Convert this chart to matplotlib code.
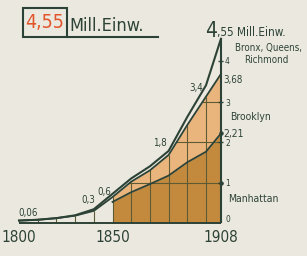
import matplotlib
matplotlib.use("Agg")
import matplotlib.pyplot as plt
from matplotlib.patches import Rectangle, Polygon

# ---- data (millions of inhabitants, New York) ----
years = [1800, 1810, 1820, 1830, 1840, 1850, 1860, 1870, 1880, 1890, 1900, 1908]
total = [0.06, 0.08, 0.12, 0.19, 0.34, 0.72, 1.10, 1.40, 1.78, 2.62, 3.40, 4.55]
manh_brooklyn = [0.06, 0.08, 0.12, 0.18, 0.30, 0.64, 1.02, 1.30, 1.68, 2.42, 3.12, 3.68]
manhattan_years = [1850, 1860, 1870, 1880, 1890, 1900, 1908]
manhattan = [0.52, 0.76, 0.96, 1.17, 1.50, 1.76, 2.21]
axis_ticks = [1, 2, 3, 4]
year_labels = ["1800", "1850", "1908"]
year_label_pos = [1800, 1850, 1908]
curve_labels = ["0,06", "0,3", "0,6", "1,8", "3,4"]
end_labels = ["3,68", "2,21"]
series_names = ["Bronx, Queens,", "Richmond", "Brooklyn", "Manhattan"]

BG = "#ebe9df"
INK = "#2d4236"
DARK = "#c38a3e"
LIGHT = "#eab57c"
RED = "#e2552b"
GRID = "#5e5a34"

W, H = 307, 256
fig = plt.figure(figsize=(W / 100, H / 100), dpi=100)
fig.patch.set_facecolor(BG)
ax = fig.add_axes([0, 0, 1, 1])
ax.set_facecolor(BG)
PX_YEAR = 1.87
PX_UNIT = 40.5
X0 = 1800 - 19 / PX_YEAR
Y0_PX = 223
ax.set_xlim(X0, X0 + W / PX_YEAR)
ax.set_ylim(-(H - Y0_PX) / PX_UNIT, Y0_PX / PX_UNIT)
ax.axis("off")


def fx(px):
    return X0 + px / PX_YEAR


def fy(py):
    return (Y0_PX - py) / PX_UNIT


i0 = years.index(manhattan_years[0])
fill_years = years[i0:]
mb_fill = manh_brooklyn[i0:]

ax.fill_between(manhattan_years, 0, manhattan, color=DARK, lw=0, zorder=1)
ax.fill_between(manhattan_years, manhattan, mb_fill, color=LIGHT, lw=0, zorder=1)
clip = Polygon(list(zip(fill_years, mb_fill)) + [(fill_years[-1], 0), (fill_years[0], 0)],
               closed=True, transform=ax.transData, fc="none", ec="none")
ax.add_patch(clip)

# grid inside filled area
hl = ax.hlines(axis_ticks[:-1], fill_years[0], fill_years[-1], color=GRID, lw=0.8, zorder=2)
hl.set_clip_path(clip)
ax.vlines(years[:-1], 0, manh_brooklyn[:-1], color=GRID, lw=0.8, zorder=2)

# axes lines
ax.hlines(0, years[0], years[-1], color=INK, lw=1.4, zorder=4)
ax.vlines(years[-1], 0, total[-1], color=INK, lw=1.5, zorder=4)
ax.hlines(axis_ticks, years[-1] - 1.5, years[-1] + 1.2, color=INK, lw=1.0, zorder=4)
ax.plot([years[-1]] * 2, [axis_ticks[0], manhattan[-1]], "o", color=INK, ms=2.2, zorder=5)

# curves
ax.plot(years, total, color=INK, lw=1.5, zorder=3, solid_joinstyle="round")
ax.plot(years, manh_brooklyn, color=INK, lw=1.3, zorder=3, solid_joinstyle="round")
ax.plot(manhattan_years, manhattan, color=INK, lw=1.3, zorder=3, solid_joinstyle="round")

# ---- texts ----
tk = dict(color=INK, family="DejaVu Sans", fontstretch="condensed")
for lab, yr in zip(year_labels, year_label_pos):
    ax.text(yr, fy(238), lab, ha="center", va="center", fontsize=11, **tk)

# title box
ax.add_patch(Rectangle((fx(23), fy(37)), (67 - 23) / PX_YEAR, (37 - 8) / PX_UNIT,
                       fill=False, ec=INK, lw=1.5, zorder=6))
ax.plot([fx(67), fx(158)], [fy(37), fy(37)], color=INK, lw=1.5, zorder=6)
ax.text(fx(45), fy(22), "4,55", ha="center", va="center", fontsize=14, color=RED,
        family="DejaVu Sans", fontstretch="condensed")
ax.text(fx(69), fy(31), "Mill.Einw.", ha="left", va="baseline", fontsize=13, **tk)

# top right
ax.text(fx(217), fy(37), "4", ha="right", va="baseline", fontsize=15, **tk)
ax.text(fx(217), fy(36), ",55 Mill.Einw.", ha="left", va="baseline", fontsize=8.5, **tk)
ax.text(fx(268), fy(48), series_names[0], ha="center", va="center", fontsize=7, **tk)
ax.text(fx(266), fy(60), series_names[1], ha="center", va="center", fontsize=7, **tk)
ax.text(fx(230), fy(117), series_names[2], ha="left", va="center", fontsize=7.5, **tk)
ax.text(fx(228), fy(199), series_names[3], ha="left", va="center", fontsize=7.5, **tk)

for t, py in zip(axis_ticks, [184, 144, 103, 62]):
    ax.text(fx(225), fy(py), str(t), ha="left", va="center", fontsize=6, **tk)
ax.text(fx(226), fy(220), "0", ha="left", va="center", fontsize=6, **tk)
ax.text(fx(223), fy(80), end_labels[0], ha="left", va="center", fontsize=7, **tk)
ax.text(fx(223), fy(134), end_labels[1], ha="left", va="center", fontsize=7.5, **tk)

for lab, (px, py) in zip(curve_labels, [(28, 213), (88, 200), (104, 192), (160, 143), (196, 88)]):
    ax.text(fx(px), fy(py), lab, ha="center", va="center", fontsize=7, **tk)

fig.savefig("out.png", dpi=100, facecolor=BG)
